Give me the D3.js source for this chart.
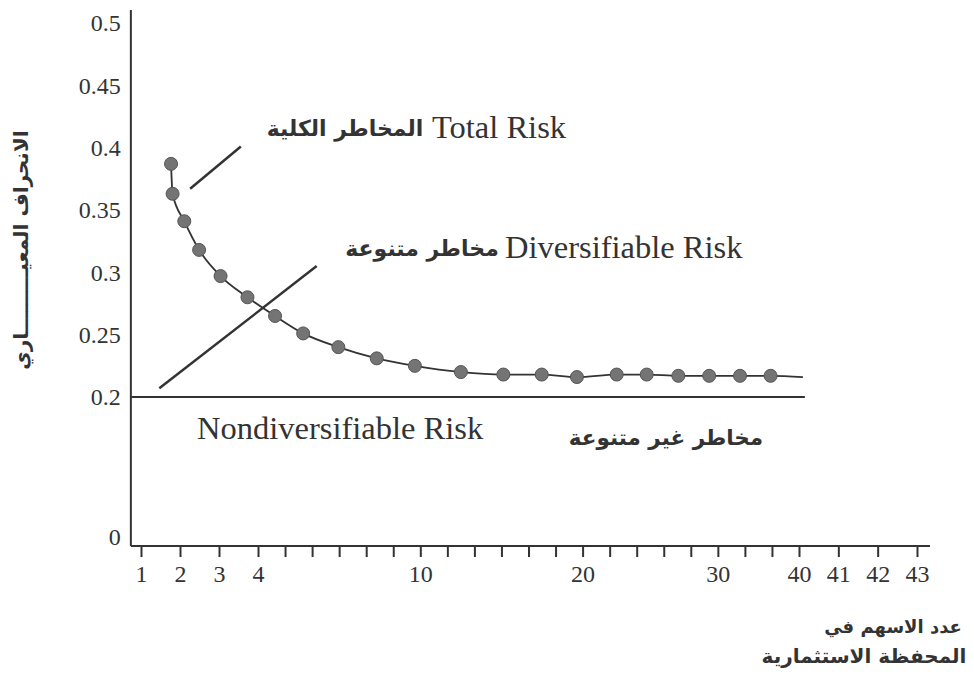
<!DOCTYPE html>
<html>
<head>
<meta charset="utf-8">
<script src="https://cdn.jsdelivr.net/npm/d3@7/dist/d3.min.js"></script>
<style>
  html, body { margin: 0; padding: 0; background: #fff; }
  svg { display: block; }
  .serif { font-family: "Liberation Serif", "DejaVu Serif", serif; fill: #333; }
  .ar { font-family: "DejaVu Sans", "Noto Sans", sans-serif; font-weight: bold; fill: #333; }
</style>
</head>
<body>
<svg id="chart" width="974" height="687"></svg>
<script>
// ---- data ----
const xTickLabels = ["1","2","3","4","","","","","","10","","","","","","20","","","","","30","","","40","41","42","43"];
const yTickValues = [0, 0.2, 0.25, 0.3, 0.35, 0.4, 0.45, 0.5];
const yTickLabels = ["0", "0.2", "0.25", "0.3", "0.35", "0.4", "0.45", "0.5"];
// x in axis-tick units (tick index), y = standard deviation
const stockPos = [0.77, 0.81, 1.11, 1.49, 2.04, 2.73, 3.63, 4.67, 5.97, 7.39, 8.80, 10.50, 12.07, 13.49, 14.79, 16.26, 17.37, 18.54, 19.68, 20.82, 21.95];
const totalRisk = [0.387, 0.363, 0.341, 0.318, 0.297, 0.280, 0.265, 0.251, 0.240, 0.231, 0.225, 0.220, 0.218, 0.218, 0.216, 0.218, 0.218, 0.217, 0.217, 0.217, 0.217];
const curveTail = [23.1, 0.216];
const marketRisk = 0.2;
const marketRiskSpan = [-0.26, 23.15];
const totalPointer = [[1.26, 0.367], [2.56, 0.401]];
const diversPointer = [[0.47, 0.207], [5.17, 0.305]];

// ---- scales ----
const svg = d3.select("#chart");
const x = d3.scaleLinear().domain([0, 3, 23, 26]).range([141, 258, 799, 917]);
const y = d3.scaleLinear().domain([0, 0.2, 0.5]).range([537, 397, 23]);
const xMin = -0.26, xMax = 26.33;
const axisY = y(0) + 9;
const ink = "#333";

// y axis line
svg.append("line")
  .attr("x1", x(xMin)).attr("x2", x(xMin))
  .attr("y1", y(0.5) - 13).attr("y2", axisY)
  .attr("stroke", ink).attr("stroke-width", 2);

// y tick labels
const yAxis = d3.axisLeft(y).tickValues(yTickValues).tickSize(0).tickPadding(0)
  .tickFormat((d, i) => yTickLabels[i]);
const gy = svg.append("g").attr("transform", `translate(${x(xMin) - 10},0)`).call(yAxis);
gy.select(".domain").remove();
gy.selectAll("text").attr("class", "serif").style("font-size", "24px").attr("fill", ink);

// x axis
svg.append("line")
  .attr("x1", x(xMin)).attr("x2", x(xMax))
  .attr("y1", axisY).attr("y2", axisY)
  .attr("stroke", ink).attr("stroke-width", 2);
const xAxis = d3.axisBottom(x).tickValues(d3.range(xTickLabels.length)).tickSize(11).tickPadding(8)
  .tickFormat((d, i) => xTickLabels[i]);
const gx = svg.append("g").attr("transform", `translate(0,${axisY})`).call(xAxis);
gx.select(".domain").remove();
gx.selectAll("line").attr("stroke", ink).attr("stroke-width", 2);
gx.selectAll("text").attr("class", "serif").style("font-size", "24px").attr("fill", ink);

// nondiversifiable risk line
svg.append("line")
  .attr("x1", x(marketRiskSpan[0])).attr("x2", x(marketRiskSpan[1]))
  .attr("y1", y(marketRisk)).attr("y2", y(marketRisk))
  .attr("stroke", ink).attr("stroke-width", 2);

// pointer lines
[totalPointer, diversPointer].forEach(p => {
  svg.append("line")
    .attr("x1", x(p[0][0])).attr("y1", y(p[0][1]))
    .attr("x2", x(p[1][0])).attr("y2", y(p[1][1]))
    .attr("stroke", ink).attr("stroke-width", 2.5);
});

// total risk curve
const pts = stockPos.map((d, i) => [d, totalRisk[i]]);
const line = d3.line().x(d => x(d[0])).y(d => y(d[1])).curve(d3.curveMonotoneX);
svg.append("path").datum(pts.concat([curveTail]))
  .attr("d", line).attr("fill", "none").attr("stroke", ink).attr("stroke-width", 1.8);
svg.selectAll("circle.pt").data(pts).enter().append("circle")
  .attr("class", "pt")
  .attr("cx", d => x(d[0])).attr("cy", d => y(d[1])).attr("r", 6.5)
  .attr("fill", "#747474").attr("stroke", "#555").attr("stroke-width", 1);

// annotations
svg.append("text").attr("class", "serif").attr("x", 432).attr("y", 138)
  .style("font-size", "32.5px").text("Total Risk");
svg.append("text").attr("class", "ar").attr("x", 345).attr("y", 136)
  .attr("text-anchor", "middle").style("font-size", "22px").text("المخاطر الكلية");
svg.append("text").attr("class", "serif").attr("x", 505).attr("y", 258)
  .style("font-size", "32.5px").text("Diversifiable Risk");
svg.append("text").attr("class", "ar").attr("x", 422).attr("y", 256)
  .attr("text-anchor", "middle").style("font-size", "22px").text("مخاطر متنوعة");
svg.append("text").attr("class", "serif").attr("x", 197).attr("y", 439)
  .style("font-size", "32.5px").text("Nondiversifiable Risk");
svg.append("text").attr("class", "ar").attr("x", 666).attr("y", 445)
  .attr("text-anchor", "middle").style("font-size", "21.5px").text("مخاطر غير متنوعة");

// axis titles
svg.append("text").attr("class", "ar")
  .attr("transform", "translate(28,250) rotate(-90)")
  .attr("text-anchor", "middle").style("font-size", "20px")
  .text("الانحراف المعيـــــــــاري");
svg.append("text").attr("class", "ar").attr("x", 893).attr("y", 633)
  .attr("text-anchor", "middle").style("font-size", "18px").text("عدد الاسهم في");
svg.append("text").attr("class", "ar").attr("x", 864).attr("y", 663)
  .attr("text-anchor", "middle").style("font-size", "20px").text("المحفظة الاستثمارية");
</script>
</body>
</html>
